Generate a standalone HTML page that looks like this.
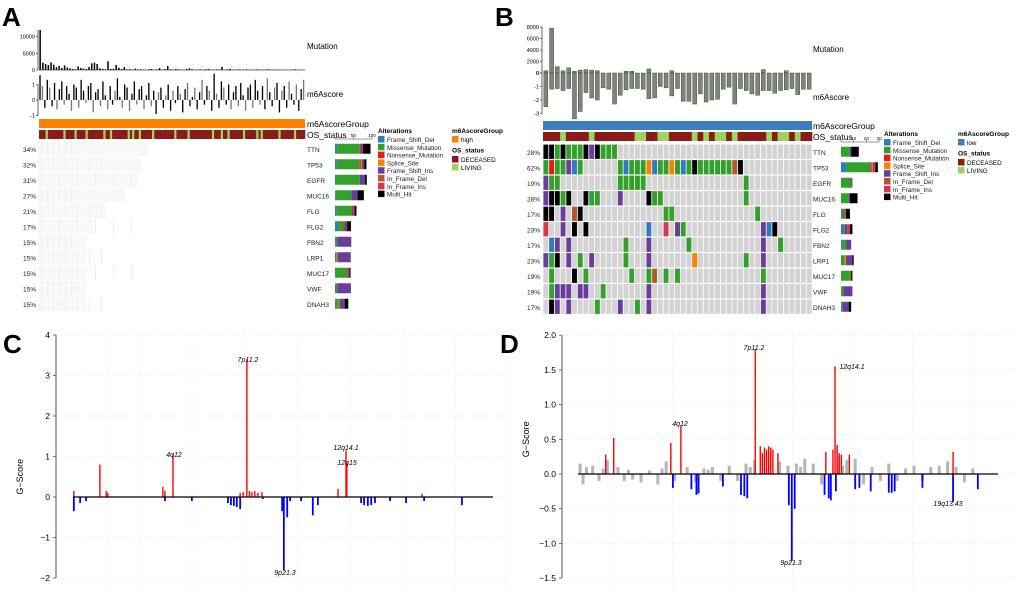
<!DOCTYPE html>
<html><head><meta charset="utf-8"><style>
html,body{margin:0;padding:0;background:#fff;}
svg{display:block;font-family:"Liberation Sans",sans-serif;}
</style></head><body>
<svg id="fig" width="1020" height="592" viewBox="0 0 1020 592" xmlns="http://www.w3.org/2000/svg">
<g id="gA"></g>
<g id="gB"></g>
<g id="gC"></g>
<g id="gD"></g>
</svg>
<script>
// ---------- data ----------
const genes = ["TTN","TP53","EGFR","MUC16","FLG","FLG2","FBN2","LRP1","MUC17","VWF","DNAH3"];
const pctA = ["34%","32%","31%","27%","21%","17%","15%","15%","15%","15%","15%"];
const pctB = ["28%","62%","19%","28%","17%","23%","17%","23%","19%","19%","17%"];
const alterNames = ["Frame_Shift_Del","Missense_Mutation","Nonsense_Mutation","Splice_Site","Frame_Shift_Ins","In_Frame_Del","In_Frame_Ins","Multi_Hit"];
const mutA = [12000,2200,1800,1500,2300,1600,900,1200,600,1400,800,500,300,200,1100,600,400,300,900,2000,2200,1800,500,300,200,2600,300,400,1500,700,300,900,200,300,100,400,200,200,100,100,200,300,100,200,600,100,300,1200,200,100,300,200,100,100,300,500,200,100,100,200,100,200,300,100,100,200,100,900,100,200,300,100,100,200,100,100,200,100,100,100,200,100,100,100,200,100,100,100,100,100,100,100,100,100,200,100,100,100];
const m6aA = [1.6,0.9,-0.5,1.3,0.8,-0.4,1.1,-0.6,0.7,1.2,-0.3,0.9,0.4,-0.7,1.0,0.8,-0.5,1.3,0.6,-0.2,0.9,1.1,-0.8,0.5,0.7,-0.4,1.2,0.3,-0.6,0.9,-0.3,0.6,1.4,0.2,-0.5,1.0,0.8,-0.7,0.4,1.2,-0.3,0.7,0.9,-0.6,0.3,1.1,-0.4,0.6,-0.9,0.5,0.8,-0.5,0.3,1.0,-0.7,0.6,-0.2,0.9,0.4,-0.8,0.7,1.1,-0.4,0.2,0.8,-0.6,0.5,1.3,-0.3,0.9,0.6,-0.7,1.7,0.4,-0.5,1.2,0.8,-0.3,1.0,-0.6,0.5,0.9,-0.4,1.1,0.3,-0.7,0.8,1.0,-0.5,1.3,0.6,-0.3,0.9,-0.6,1.4,0.5,-0.4,0.8,1.1,-0.8,0.6,0.9,-0.5,1.2,0.4,-0.3,1.0,-0.7,0.7,1.3];
const osA = "DDDLDDDDDDDLDDDDLDDDDLDDDDDDDLDDLDDDDDDDLDLDDLDDDDDLDDDDDDDDDLDDDDDLDDDDDDDDDDLDDDLDDLDDDDDDLDDDDDLDLDDDDDDDLDDDDDDLDDDD";
const sideA = [["B6","G61","R3","P6","K20"],["B5","G62","R3","O3","P6","K6"],["G67","P14","K5"],["B1","G43","P17","K17"],["B5","G41","R3","P4","K5"],["B8","G15","R3","P7","K10"],["G6","P38"],["G5","O2","P33","K2"],["G33","R3","P3","K3"],["G6","P37"],["G10","O2","P14","K10"]];
const mutB = [400,7800,1100,400,900,300,500,600,500,400,0,0,0,0,300,300,0,0,700,0,0,0,400,0,0,0,0,0,0,0,0,0,0,0,0,0,0,0,600,0,0,0,400,0,0,0,0];
const m6aB = [-2.5,-1.2,-1.15,-1.3,-1.15,-3.4,-2.85,-1.45,-1.85,-2.0,-1.1,-1.2,-2.3,-1.65,-1.25,-1.15,-1.15,-1.2,-1.9,-1.85,-1.0,-1.1,-1.7,-1.15,-2.1,-2.1,-2.3,-1.55,-2.15,-2.0,-1.95,-1.2,-1.05,-2.3,-1.15,-1.3,-1.55,-1.65,-1.3,-1.3,-1.5,-1.3,-1.25,-1.15,-1.6,-1.2,-1.2];
const osB = "DDDLDDDDLDDDDDDDLLDDLLDDDDLDLDLLDLDDDDDLDLLDLDD";
const gridB = [
"KKGKGGGKPKGGG..................................",
"GRGGPBG......GBGGGOBGGOGBGKGGGGGGNK............",
"PGG..........GGGGG.................G...........",
"PKKGK..KGG...P....KGG..............G...........",
"KK.P.NK..............GG..............G.........",
"I..P.K.K..........B..I.PG.............PBK......",
".BP.P.........G...P......G............P..G.....",
"PGK.P.G.P.....G...P.......O........G..P........",
".G...K.G.......G..GN.G.G..............G........",
".GPPP.PP..G.......P...................P........",
".KP.P....G...P..G.P...................P........"];
const sideB = [["G7","P1","K6"],["B4","G19","R1","O1","P1","N1","K2"],["G8","P1"],["G6","P1","K6"],["G2","P1","N1","K3"],["B2","G1","P2","I2","K2"],["B1","G3","P4"],["G3","O1","P5","K1"],["G7","N1","K1"],["G2","P7"],["G1","P5","K2"]];
// GISTIC C (genome position 0-100, G-score)
const ampPosC = [0.2,6.4,7.9,8.3,21.4,21.9,23.8,39.8,40.5,41.4,42,42.6,43.3,44,45,63.1,65,65.2,83.1];
const ampValC = [0.15,0.8,0.15,0.1,0.25,0.15,1.05,0.1,0.12,3.4,0.15,0.12,0.15,0.1,0.12,0.2,1.15,0.85,0.08];
const delPosC = [0.2,1.7,3.1,21.9,28.3,36.9,37.6,38.3,39,39.8,45.2,49.8,50.2,51,51.7,54.3,57.1,58.3,68.6,69.3,70.2,71,71.9,75.5,79.3,83.6,92.6];
const delValC = [-0.35,-0.15,-0.1,-0.1,-0.1,-0.15,-0.2,-0.22,-0.25,-0.3,-0.05,-0.35,-1.8,-0.5,-0.1,-0.1,-0.45,-0.2,-0.15,-0.2,-0.22,-0.2,-0.15,-0.1,-0.15,-0.1,-0.2];
// GISTIC D
const ampPosD = [6.6,8.5,22.1,24.5,42.2,43.4,43.9,44.4,44.9,45.4,45.9,46.4,47.6,59,60.7,61.2,61.7,62.2,62.7,64.6,89.3];
const ampValD = [0.28,0.52,0.45,0.7,1.8,0.4,0.3,0.38,0.35,0.4,0.38,0.35,0.3,0.32,0.35,1.55,0.42,0.3,0.28,0.28,0.32];
const delPosD = [22.6,27,28.2,28.7,34.5,38.8,39.6,40.3,50.2,50.9,51.6,58.7,59.7,60.2,61.4,66,67,69.7,74,74.7,75.4,82,89.3,95.2];
const delValD = [-0.2,-0.22,-0.3,-0.28,-0.18,-0.3,-0.32,-0.35,-0.45,-1.25,-0.5,-0.3,-0.35,-0.38,-0.25,-0.22,-0.2,-0.25,-0.27,-0.27,-0.25,-0.2,-0.4,-0.22];
const grayPosD = [0.5,1.2,2,3.5,5,6,7,9.5,11,12,13,15,17,19,20,21,23,26,28,30,31,32,34,36,38,40,41,42,48,50,52,53,54,56,58,62,63,64,66,68,70,72,74,76,78,80,82,84,86,88,90,92,94];
const grayValD = [0.15,-0.15,0.1,0.12,-0.1,0.08,0.2,0.1,-0.1,0.06,-0.08,-0.12,0.05,-0.15,0.08,0.18,-0.1,0.1,-0.12,0.08,0.06,0.1,-0.1,0.12,-0.1,0.15,0.1,0.2,0.18,0.12,0.15,0.1,0.22,0.15,-0.15,0.25,0.12,0.2,0.22,-0.15,0.1,-0.1,0.15,-0.1,0.08,0.12,-0.1,0.1,0.12,0.18,0.1,-0.12,0.08];

// ---------- helpers ----------
const NS="http://www.w3.org/2000/svg";
const COL={B:"#2f7bbf",G:"#33a02c",R:"#e31a1c",O:"#ff7f00",P:"#6a3d9a",N:"#b15928",I:"#d6374e",K:"#000000",".":"#d3d3d3",D:"#8b1a1a",L:"#9fd35f"};
function mk(parent,tag,attrs,text){const e=document.createElementNS(NS,tag);for(const k in attrs)e.setAttribute(k,attrs[k]);if(text!==undefined)e.textContent=text;parent.appendChild(e);return e;}

function panelLetter(g,x,y,t){const e=mk(g,"text",{x:x,y:y,"font-size":26,"font-weight":"bold"},t);

}

// ---------- oncoplot ----------
function oncoplot(g,o){
  const n=o.n, x0=o.x0, w=o.x1-o.x0, cw=w/n;
  const ma=mk(g,"line",{x1:x0-1,y1:o.mutTop,x2:x0-1,y2:o.mutZero,stroke:"#000","stroke-width":0.6});
  
  
  const ymut=v=>o.mutZero-(v/o.mutMax)*(o.mutZero-o.mutTop);
  o.mutTicks.forEach(t=>{mk(g,"line",{x1:x0-3,x2:x0-1,y1:ymut(t),y2:ymut(t),stroke:"#000","stroke-width":0.5});
    const tl=mk(g,"text",{x:x0-4,y:ymut(t)+2,"font-size":5.5,"text-anchor":"end"},t);
    
    });
  const ym6=v=>o.m6Zero-v*o.m6Scale;
  o.m6Ticks.forEach(t=>{mk(g,"line",{x1:x0-3,x2:x0-1,y1:ym6(t),y2:ym6(t),stroke:"#000","stroke-width":0.5});
    const tl=mk(g,"text",{x:x0-4,y:ym6(t)+2,"font-size":5.5,"text-anchor":"end"},t);
    
    });
  mk(g,"line",{x1:x0-1,y1:ym6(o.m6Ticks[0]),x2:x0-1,y2:ym6(o.m6Ticks[o.m6Ticks.length-1]),stroke:"#000","stroke-width":0.6});
  const mw=w/o.mut.length;
  o.mut.forEach((v,i)=>{const b=mk(g,"rect",{x:x0+i*mw+mw*0.15,y:ymut(v),width:Math.max(mw*o.barFrac,0.6),height:o.mutZero-ymut(v),fill:o.barFill,stroke:o.barStroke,"stroke-width":o.barStroke==="none"?0:0.4});
    
    });
  if(o.mutBase) mk(g,"line",{x1:x0,x2:o.x1,y1:o.mutZero,y2:o.mutZero,stroke:"#000","stroke-width":0.5});
  const sw=w/o.m6.length;
  o.m6.forEach((v,i)=>{const y1=ym6(Math.max(v,0)),y2=ym6(Math.min(v,0));
    const b=mk(g,"rect",{x:x0+i*sw+sw*0.15,y:y1,width:Math.max(sw*o.barFrac,0.6),height:y2-y1,fill:o.m6Fill?o.m6Fill(i):o.barFill,stroke:o.barStroke,"stroke-width":o.barStroke==="none"?0:0.4});
    
    });
  const t1=mk(g,"text",{x:o.labX,y:o.mutLabY,"font-size":8},"Mutation");
  
  
  const t2=mk(g,"text",{x:o.labX,y:o.m6LabY,"font-size":8},"m6Ascore");
  
  
  const gb=mk(g,"rect",{x:x0,y:o.grpY,width:w,height:9,fill:o.grpColor});
  
  
  const t3=mk(g,"text",{x:o.labX,y:o.grpY+8,"font-size":8.5},"m6AscoreGroup");
  
  
  const ow=w/o.os.length;
  for(let i=0;i<o.os.length;i++){const r=mk(g,"rect",{x:x0+i*ow,y:o.grpY+11,width:ow+0.3,height:9,fill:COL[o.os[i]]});
    
    }
  const t4=mk(g,"text",{x:o.labX,y:o.grpY+19,"font-size":8.5},"OS_status");
  
  
  const rh=o.rowH;
  genes.forEach((gn,r)=>{
    const yy=o.gridY+r*rh;
    if(o.grid){
      for(let c=0;c<n;c++){const ch=o.grid[r][c]||".";
        const cell=mk(g,"rect",{x:x0+c*cw+0.4,y:yy+0.6,width:cw-0.8,height:rh-1.2,fill:COL[ch]});
        
        }
    } else {
      const fr=parseFloat(o.pct[r])/100;
      const cell=mk(g,"rect",{x:x0,y:yy+0.6,width:w*fr*1.2,height:rh-1.2,fill:"#f7f8f7"});
      
      
      for(let k=0;k<6;k++){const sx=x0+2+k*6*(r%3+1);
        mk(g,"rect",{x:sx,y:yy+0.6,width:1,height:rh-1.2,fill:"#ececf2"});}
    }
    const pl=mk(g,"text",{x:x0-3,y:yy+rh/2+3,"font-size":6.5,"text-anchor":"end",fill:"#222"},o.pct[r]);
    
    
    const gl=mk(g,"text",{x:o.labX,y:yy+rh/2+3,"font-size":6.5,fill:"#222"},gn);
    
    
    let sx=o.sideX0;
    o.side[r].forEach(s=>{const k=s[0],v=+s.slice(1);
      const sb=mk(g,"rect",{x:sx,y:yy+rh/2-5,width:v*o.sideScale,height:10,fill:COL[k]});
      
      
      sx+=v*o.sideScale;});
  });
  mk(g,"line",{x1:o.sideX0,x2:o.sideX0+o.sideMax*o.sideScale,y1:o.gridY-2,y2:o.gridY-2,stroke:"#000","stroke-width":0.4});
  o.sideTicks.forEach(t=>{const tx=o.sideX0+t*o.sideScale;
    mk(g,"line",{x1:tx,x2:tx,y1:o.gridY-2,y2:o.gridY-4,stroke:"#000","stroke-width":0.4});
    if(t>0){const tl=mk(g,"text",{x:tx,y:o.gridY-4,"font-size":4.5,"text-anchor":"middle"},t);
    
    }});
  const lx=o.legX, ly=o.gridY-8;
  const lt=mk(g,"text",{x:lx,y:ly,"font-size":6.5,"font-weight":"bold"},"Alterations");
  
  
  const keys="BGROPNIK";
  alterNames.forEach((nm,i)=>{
    const sq=mk(g,"rect",{x:lx,y:ly+3+i*7.8,width:6.5,height:6.5,fill:COL[keys[i]]});
    
    
    const tx=mk(g,"text",{x:lx+9,y:ly+9+i*7.8,"font-size":6.3,fill:"#222"},nm);
    
    });
  const gx=o.leg2X;
  const g1=mk(g,"text",{x:gx,y:ly,"font-size":6.5,"font-weight":"bold"},"m6AscoreGroup");
  
  
  mk(g,"rect",{x:gx,y:ly+3,width:6.5,height:6.5,fill:o.grpColor});
  const g2=mk(g,"text",{x:gx+9,y:ly+9,"font-size":6.3},o.grpName);
  
  
  const g3=mk(g,"text",{x:gx,y:ly+19.5,"font-size":6.5,"font-weight":"bold"},"OS_status");
  
  
  mk(g,"rect",{x:gx,y:ly+23,width:6.5,height:6.5,fill:COL.D});
  const g4=mk(g,"text",{x:gx+9,y:ly+29,"font-size":6.3},"DECEASED");
  
  
  mk(g,"rect",{x:gx,y:ly+31,width:6.5,height:6.5,fill:COL.L});
  const g5=mk(g,"text",{x:gx+9,y:ly+37,"font-size":6.3},"LIVING");
  
  
}

const gA=document.getElementById("gA"), gB=document.getElementById("gB");
panelLetter(gA,2,26,"A");
oncoplot(gA,{n:120,x0:39,x1:305,mutTop:30,mutZero:70,mutMax:12000,mutTicks:[0,5000,10000],mut:mutA,
  m6Zero:100,m6Scale:15.5,m6Ticks:[-1,0,1],m6:m6aA,barFill:"#000",barStroke:"none",barFrac:0.55,mutBase:true,
  m6Fill:i=>(i%3===1?"#777":"#000"),
  labX:307,mutLabY:49,m6LabY:97,grpY:119,grpColor:"#ff8000",grpName:"high",os:osA,
  gridY:141,rowH:15.5,pct:pctA,grid:null,side:sideA,sideX0:335,sideScale:0.37,sideMax:100,sideTicks:[0,50,100],
  legX:378,leg2X:452});
panelLetter(gB,495,26,"B");
oncoplot(gB,{n:47,x0:543,x1:812,mutTop:27,mutZero:73,mutMax:8000,mutTicks:[0,2000,4000,6000,8000],mut:mutB,
  m6Zero:73,m6Scale:13.5,m6Ticks:[-3,-2,-1,0],m6:m6aB,barFill:"#7d8478",barStroke:"#333",barFrac:0.7,mutBase:false,
  labX:813,mutLabY:52,m6LabY:100,grpY:121,grpColor:"#3b7fc0",grpName:"low",os:osB,
  gridY:144,rowH:15.5,pct:pctB,grid:gridB,side:sideB,sideX0:841,sideScale:1.27,sideMax:30,sideTicks:[0,10,20,30],
  legX:884,leg2X:958});

// ---------- GISTIC plots ----------
function gistic(g,o){
  const y=v=>o.zeroY-v*o.unit, x=p=>o.gx0+p/100*(o.gx1-o.gx0);
  o.vgrid.forEach(vx=>mk(g,"line",{x1:vx,x2:vx,y1:o.top-3,y2:o.bot+10,stroke:"#ddd","stroke-width":0.6,"stroke-dasharray":"1,2"}));
  o.ticks.forEach(t=>{
    mk(g,"line",{x1:o.ax+2,x2:o.right,y1:y(t),y2:y(t),stroke:"#ddd","stroke-width":0.6,"stroke-dasharray":"1,2"});
    mk(g,"line",{x1:o.ax-3,x2:o.ax,y1:y(t),y2:y(t),stroke:"#555","stroke-width":0.8});
    const tl=mk(g,"text",{x:o.ax-6,y:y(t)+3,"font-size":8.5,"text-anchor":"end"},o.fmt(t));
    
    });
  const ax=mk(g,"line",{x1:o.ax,x2:o.ax,y1:y(o.ticks[o.ticks.length-1]),y2:y(o.ticks[0]),stroke:"#555","stroke-width":1});
  
  
  const yt=mk(g,"text",{x:0,y:0,"font-size":9,"text-anchor":"middle",transform:`translate(${o.ax-33},${o.zeroY-o.unit*0.5}) rotate(-90)`},"G\u2212Score");
  
  
  if(o.grayPos) o.grayPos.forEach((p,i)=>{const v=o.grayVal[i];
    const b=mk(g,"rect",{x:x(p)-1.5,y:Math.min(y(v),o.zeroY),width:3,height:Math.abs(y(v)-o.zeroY),fill:"#b5b5b5"});
    
    });
  o.ampPos.forEach((p,i)=>{const b=mk(g,"rect",{x:x(p)-0.7,y:y(o.ampVal[i]),width:1.4,height:o.zeroY-y(o.ampVal[i]),fill:"#ff0000"});
    
    });
  o.delPos.forEach((p,i)=>{const b=mk(g,"rect",{x:x(p)-0.9,y:o.zeroY,width:1.8,height:y(o.delVal[i])-o.zeroY,fill:"#0000ff"});
    
    });
  const bl=mk(g,"line",{x1:o.gx0,x2:o.gx1,y1:o.zeroY,y2:o.zeroY,stroke:"#000","stroke-width":1.3});
  
  
  o.labels.forEach(l=>{const t=mk(g,"text",{x:l[0],y:l[1],"font-size":7,"font-style":"italic","text-anchor":"middle"},l[2]);
    
    });
}
const gC=document.getElementById("gC"), gD=document.getElementById("gD");
panelLetter(gC,3,353,"C");
gistic(gC,{zeroY:497,unit:40.5,ticks:[-2,-1,0,1,2,3,4],fmt:t=>t<0?"\u2212"+(-t):""+t,ax:56,right:508,top:335,bot:578,
  gx0:73,gx1:493,vgrid:[107,140,192,245,298,350,403,455,507],
  ampPos:ampPosC,ampVal:ampValC,delPos:delPosC,delVal:delValC,
  labels:[[174,457,"4q12"],[248,362,"7p11.2"],[346,450,"12q14.1"],[347,465,"12q15"],[285,575,"9p21.3"]]});
panelLetter(gD,500,353,"D");
gistic(gD,{zeroY:474,unit:69.4,ticks:[-1.5,-1,-0.5,0,0.5,1,1.5,2],fmt:t=>t<0?"\u2212"+(-t).toFixed(1):t.toFixed(1),ax:562,right:1012,top:335,bot:578,
  gx0:578,gx1:998,vgrid:[612,673,733,793,853,913,973],
  ampPos:ampPosD,ampVal:ampValD,delPos:delPosD,delVal:delValD,grayPos:grayPosD,grayVal:grayValD,
  labels:[[680,426,"4q12"],[754,350,"7p11.2"],[852,369,"12q14.1"],[791,565,"9p21.3"],[948,506,"19q13.43"]]});
</script>
</body></html>
